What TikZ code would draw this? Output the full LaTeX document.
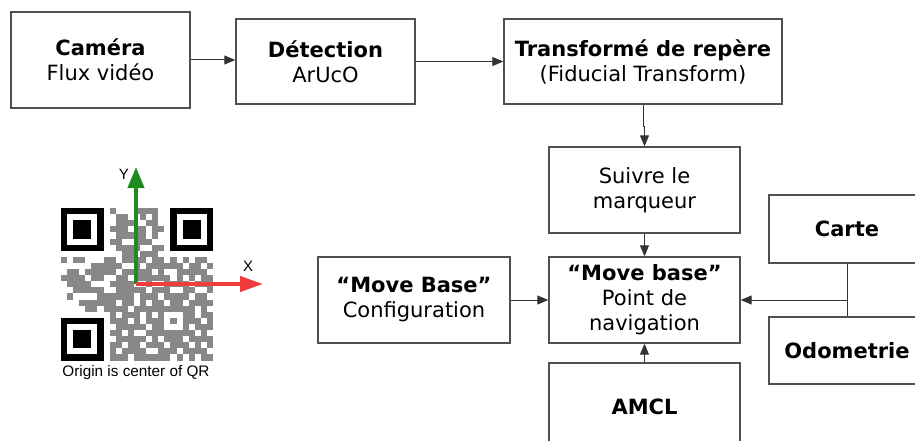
\documentclass[tikz,border=0pt]{standalone}
\usepackage{fontspec}
\setmainfont{DejaVu Sans}
\newfontfamily\capfont{Liberation Sans}
\usetikzlibrary{arrows.meta,calc}
\definecolor{boxline}{RGB}{80,80,80}
\definecolor{qrgray}{RGB}{136,136,136}
\definecolor{axgreen}{RGB}{30,140,30}
\definecolor{axred}{RGB}{240,60,60}
\begin{document}
\begin{tikzpicture}[x=1pt,y=-1pt,
  blk/.style={draw=boxline,line width=1.4pt,inner sep=0pt,align=center,
    font=\fontsize{21}{25}\selectfont,fill=white},
  arr/.style={draw=black!80,line width=1pt,-{Triangle[length=11pt,width=9pt]}},
  link/.style={draw=black!80,line width=1pt}]
\useasboundingbox (0,0) rectangle (915,441);
\clip (0,0) rectangle (915,441);
% boxes
\node[blk,minimum width=179pt,minimum height=96pt] (cam) at (100.5,60) {\textbf{Caméra}\\Flux vidéo};
\node[blk,minimum width=179pt,minimum height=85pt] (det) at (325.5,61.5) {\textbf{Détection}\\ArUcO};
\node[blk,minimum width=278pt,minimum height=85pt] (trans) at (643,61.5) {\textbf{Transformé de repère}\\(Fiducial Transform)};
\node[blk,minimum width=191pt,minimum height=86pt] (suiv) at (644.5,190) {Suivre le\\marqueur};
\node[blk,minimum width=191pt,minimum height=86pt] (mb) at (644.5,300) {\textbf{“Move base”}\\Point de\\navigation};
\node[blk,minimum width=191pt,minimum height=88pt] (amcl) at (644.5,407) {\textbf{AMCL}};
\node[blk,minimum width=192pt,minimum height=86pt] (conf) at (414,300) {\textbf{“Move Base”}\\Configuration};
\node[blk,minimum width=156pt,minimum height=68pt] (carte) at (847,229) {\textbf{Carte}};
\node[blk,minimum width=156pt,minimum height=67pt] (odo) at (847,350.5) {\textbf{Odometrie}};
% connectors
\draw[arr] (cam.east) -- (det.west |- cam.east);
\draw[arr] (det.east) -- (trans.west |- det.east);
\draw[arr] (trans.south) -- ++(0,22) -| (suiv.north);
\draw[arr] (suiv.south) -- (mb.north);
\draw[arr] (amcl.north) -- (mb.south);
\draw[arr] (conf.east) -- (mb.west);
\draw[link] (carte.south) -- (odo.north);
\coordinate (junc) at (carte.south |- mb.east);
\draw[arr] (junc) -- (mb.east);
% QR code
\def\mx{6.08}
\def\my{6.1}
\coordinate (qr) at (61,208);
\foreach \r/\cl in {0/{8,12,13,14,15},1/{9,10,13,15},2/{9,10,11,14,15},3/{8,9,10,12,13,15,16},
  4/{9,10,11,12,13,15},5/{8,9,12,13,14},6/{9,10,11,12,15,16},7/{10,11,13,14,15},
  8/{0,2,3,7,8,10,11,12,13,15,16,18,20,22,23},
  9/{5,6,7,8,9,12,14,15,16,17,18,19,21,22,24},
  10/{1,2,4,5,6,7,8,10,11,12,13,14,16,19,20,21,22,23},
  11/{0,1,2,3,5,6,9,10,12,13,14,15,16,17,19,21,23,24},
  12/{1,2,3,4,8,9,10,11,14,17,18,19,20,22,23,24},
  13/{2,3,4,5,6,9,10,11,12,13,15,16,17,20,21,24},
  14/{1,6,7,8,9,10,11,13,14,15,17,18,19,20,22,23},
  15/{3,4,5,6,7,8,10,11,13,15,16,18,19,21,22,23,24},
  16/{4,5,7,8,9,10,12,13,14,15,16,17,19,20,21,23},
  17/{8,10,11,12,14,16,17,18,20,21,23,24},
  18/{8,9,10,12,14,15,16,18,19,20,21,22,24},
  19/{9,10,11,12,13,15,17,19,20,22,23,24},
  20/{8,9,11,14,15,16,17,18,20,21,23},
  21/{9,10,11,12,13,15,17,18,19,21,22,23,24},
  22/{8,9,11,12,14,15,16,18,19,20,22,24},
  23/{8,10,11,12,13,16,17,18,20,21,22,23},
  24/{8,9,10,12,13,14,15,16,17,19,21,23,24}}{
  \foreach \c in \cl {
    \fill[qrgray] ($(qr)+(\c*\mx,\r*\my)$) rectangle ++(\mx,\my);
  }
}
% alignment pattern
\fill[qrgray] ($(qr)+(16*\mx,16*\my)$) rectangle ++(5*\mx,5*\my);
\fill[white] ($(qr)+(17*\mx,17*\my)$) rectangle ++(3*\mx,3*\my);
\fill[qrgray] ($(qr)+(18*\mx,18*\my)$) rectangle ++(\mx,\my);
% finder patterns
\foreach \fr/\fc in {0/0,0/18,18/0}{
  \fill[black] ($(qr)+(\fc*\mx,\fr*\my)$) rectangle ++(7*\mx,7*\my);
  \fill[white] ($(qr)+(\fc*\mx+\mx,\fr*\my+\my)$) rectangle ++(5*\mx,5*\my);
  \fill[black] ($(qr)+(\fc*\mx+2*\mx,\fr*\my+2*\my)$) rectangle ++(3*\mx,3*\my);
}
% axes
\coordinate (org) at (136,284);
\coordinate (yend) at (136,167);
\coordinate (xend) at (263,284);
\draw[axgreen,line width=4pt,-{Triangle[length=21pt,width=16pt]}] (org) -- (yend);
\draw[axred,line width=4pt,-{Triangle[length=23pt,width=15pt]}] (org) -- (xend);
\node[font=\capfont\fontsize{15}{18}\selectfont,inner sep=0pt] (ylab) at (124,174) {Y};
\node[font=\capfont\fontsize{15}{18}\selectfont,inner sep=0pt] (xlab) at (248,266) {X};
\node[font=\capfont\fontsize{15.3}{18}\selectfont,inner sep=0pt,anchor=base] (cap) at (136,376) {Origin is center of QR};
\end{tikzpicture}
\end{document}
